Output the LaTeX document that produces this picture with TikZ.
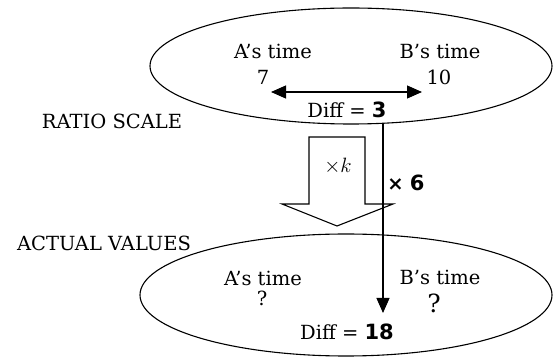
\documentclass[tikz,border=0pt]{standalone}
\usepackage{fontspec}
\setmainfont{DejaVu Serif}
\newfontfamily\numfont{DejaVu Sans}
\usetikzlibrary{arrows.meta}
\begin{document}
\begin{tikzpicture}[x=1pt,y=-1pt,
  lbl/.style={font=\fontsize{19.5}{22}\selectfont, inner sep=0pt},
  ell/.style={draw, line width=1.1pt},
  conn/.style={line width=1.1pt}]
\useasboundingbox (0,0) rectangle (555,358);
% ellipses
\draw[ell] (351,66) ellipse [x radius=201, y radius=58];
\draw[ell] (346,295) ellipse [x radius=206, y radius=61];
% top texts
\node[lbl] (at) at (273,51) {A’s time};
\node[lbl] (bt) at (440,51) {B’s time};
\node[lbl] (a7) at (263,77) {7};
\node[lbl] (b10) at (439,77) {10};
\coordinate (dl) at (271,92);
\coordinate (dr) at (422,92);
\draw[conn, {Triangle[length=15pt,width=13pt]}-{Triangle[length=15pt,width=13pt]}] (dl) -- (dr);
\node[lbl] (d3) at (347,110) {Diff = {\numfont\bfseries\fontsize{21}{23}\selectfont 3}};
% side labels
\node[lbl] (rs) at (112,121) {RATIO SCALE};
\node[lbl] (av) at (104,243) {ACTUAL VALUES};
% block arrow
\draw[line width=1.1pt] (309,137) -- (365,137) -- (365,204) -- (393,204) -- (337,226) -- (282,204) -- (309,204) -- cycle;
\node[lbl] (xk) at (338,166) {\fontsize{21}{23}\selectfont$\times k$};
% vertical arrow
\coordinate (vtop) at (383,124);
\coordinate (vbot) at (383,313);
\draw[conn, -{Triangle[length=15pt,width=13pt]}] (vtop) -- (vbot);
\node[lbl] (x6) at (406,183) {{\numfont\bfseries ×} {\numfont\bfseries\fontsize{21}{23}\selectfont 6}};
% bottom texts
\node[lbl] (at2) at (263,278) {A’s time};
\node[lbl] (bt2) at (440,277) {B’s time};
\node[lbl] (q1) at (262,298) {?};
\node[lbl] (q2) at (434,303) {\fontsize{25}{27}\selectfont ?};
\node[lbl] (d18) at (347,332) {Diff = {\numfont\bfseries\fontsize{21}{23}\selectfont 18}};
\end{tikzpicture}
\end{document}
